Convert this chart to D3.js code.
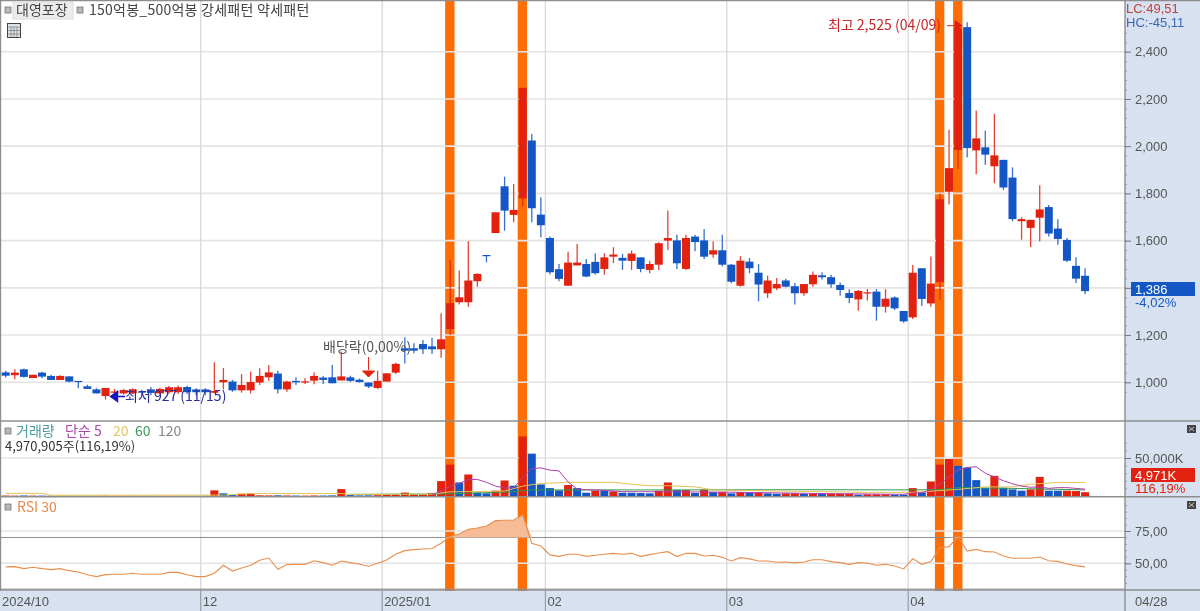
<!DOCTYPE html>
<html>
<head>
<meta charset="utf-8">
<script src="https://cdn.jsdelivr.net/npm/d3@7/dist/d3.min.js"></script>
<style>
  html, body { margin: 0; padding: 0; background: #fff; overflow: hidden; }
  text { font-family: "Noto Sans CJK KR", "Liberation Sans", sans-serif; }
  .num { font-family: "Liberation Sans", sans-serif; }
</style>
</head>
<body>
<div id="chart"></div>
<script>
// daily candles (row = 10 sessions)
var opens = [
  1042,1030,1055,1018,1041,1027,1010,1025,1006,983,
  970,942,957,953,953,961,970,953,958,958,
  980,970,970,956,1000,1003,966,966,999,1021,
  1037,970,1006,1000,1007,1020,1021,1008,1021,1011,
  999,976,1003,1041,1144,1144,1162,1152,1140,1226,
  1339,1339,1428,1539,1632,1830,1709,1779,2024,1710,
  1611,1479,1409,1495,1501,1510,1480,1532,1527,1514,
  1529,1476,1498,1600,1601,1480,1617,1601,1541,1559,
  1498,1409,1511,1464,1377,1398,1431,1407,1377,1415,
  1453,1445,1412,1378,1351,1377,1384,1320,1359,1302,
  1275,1483,1334,1424,1807,1984,2504,1982,1995,1915,
  1942,1867,1682,1654,1697,1742,1651,1603,1493,1451
];
var closes = [
  1028,1041,1023,1032,1024,1010,1027,1003,1001,972,
  953,976,961,967,970,956,955,972,979,979,
  958,958,958,963,1010,966,989,1001,1027,1042,
  970,1003,1000,1004,1027,1010,996,1025,1006,1001,
  982,1006,1038,1078,1134,1134,1140,1140,1182,1335,
  1360,1431,1459,1534,1720,1727,1730,2247,1737,1665,
  1466,1438,1507,1507,1448,1462,1529,1541,1515,1545,
  1480,1501,1589,1611,1504,1611,1594,1532,1559,1498,
  1426,1515,1483,1414,1431,1416,1405,1377,1416,1455,
  1445,1415,1391,1357,1387,1381,1320,1354,1313,1258,
  1464,1353,1418,1775,1907,2499,1992,2033,1964,1961,
  1825,1691,1691,1688,1732,1630,1607,1515,1439,1386
];
var highs = [
  1049,1055,1058,1032,1045,1032,1030,1025,1006,990,
  975,976,972,972,975,968,980,977,984,986,
  985,975,975,1085,1060,1010,1035,1045,1059,1073,
  1049,1007,1021,1017,1041,1027,1073,1130,1028,1016,
  999,1049,1038,1083,1191,1165,1179,1189,1292,1518,
  1473,1597,1462,1539,1720,1871,1840,2247,2052,1784,
  1617,1501,1553,1586,1522,1546,1546,1572,1544,1558,
  1529,1515,1593,1727,1625,1625,1625,1649,1597,1625,
  1501,1534,1527,1501,1452,1442,1438,1421,1416,1469,
  1466,1455,1423,1394,1391,1395,1395,1395,1364,1302,
  1497,1483,1533,1799,2070,2520,2525,2151,2066,2137,
  1942,1910,1699,1688,1834,1751,1690,1611,1530,1483
];
var lows = [
  1020,1013,1020,1018,1017,1010,1010,1000,975,972,
  953,927,937,948,950,945,945,948,950,950,
  950,945,945,953,970,960,956,953,989,1007,
  953,960,989,993,992,993,996,1008,1001,999,
  976,972,1003,1035,1080,1123,1120,1120,1104,1200,
  1329,1320,1405,1508,1632,1642,1678,1744,1678,1614,
  1457,1428,1409,1495,1445,1456,1456,1505,1476,1476,
  1466,1462,1476,1560,1480,1476,1555,1522,1527,1490,
  1419,1405,1462,1343,1357,1391,1402,1329,1366,1405,
  1435,1400,1366,1335,1303,1346,1261,1295,1306,1252,
  1268,1323,1320,1348,1753,1903,1952,1881,1921,1843,
  1815,1682,1604,1573,1597,1617,1583,1509,1420,1373
];
// volume in 1000 shares
var volumes = [
  600,500,700,500,500,400,400,400,300,300,
  400,500,300,300,400,300,300,300,300,300,
  300,300,400,7400,3500,1200,3000,3200,900,800,
  900,700,600,500,700,600,800,9100,1200,800,
  900,1100,1400,1800,4500,2500,2000,4000,19600,41300,
  17800,28300,4500,3500,7000,20400,13500,78300,55700,15200,
  10400,7400,14400,10400,4300,7000,6900,6100,4300,4200,
  3900,3500,7000,17800,7800,7900,3900,8300,5200,5400,
  3500,5200,4300,4400,3500,3000,3500,3600,3000,3000,
  3000,3000,3000,3000,1700,2200,2200,2200,1700,1700,
  10400,4800,19100,41300,48700,39600,37400,20900,10400,26500,
  10900,8700,7000,8700,25200,7000,7000,7000,6500,4971
];
// 1 = red volume bar, 0 = blue
var volUp = [
  1,1,0,1,0,0,1,0,0,0,
  0,1,1,1,1,0,0,1,1,1,
  0,0,0,1,0,0,1,1,1,1,
  0,1,0,1,1,0,0,1,0,0,
  0,1,1,1,1,1,1,1,1,1,
  0,1,0,0,1,1,0,1,0,0,
  0,0,1,0,0,1,0,1,0,0,
  0,0,1,1,0,1,0,1,0,1,
  0,1,0,1,0,0,1,1,0,1,
  0,1,1,1,0,1,1,1,0,0,
  1,0,1,1,1,0,0,0,0,1,
  0,0,0,1,1,0,0,1,1,1
];
var rsi = [
  47.2,47.4,45.9,46.9,45.9,45.1,45.9,44.3,43.3,41.2,
  39.7,41.2,41.5,41.5,42.3,41.5,41.5,41.5,43,43,
  41.2,39.7,39.7,42.3,48.5,44,46.4,48.5,52.3,54.1,
  45.4,49,49.2,49.2,52,50.5,48.5,51.8,50.5,49.2,
  47.7,50,52.6,57,59.8,60.6,61.1,61.4,65.5,70.6,
  72.7,76.3,77.3,78.9,83,83.3,83.5,87.4,65.5,63.4,
  56.5,55.4,57,57,55.4,56.2,57,57.7,57,57.7,
  55.4,56.7,58,59,55.2,57.7,57.7,55.7,56.2,54.6,
  51.8,54.4,53.4,51.8,51.8,50.8,51,50.3,51,52.8,
  52.8,51.3,50.5,49.2,50.5,50,48.5,49.2,47.9,45.6,
  53.6,49.2,51.3,62.1,62.9,70.6,59.5,60.8,59,58.8,
  55.7,53.9,53.9,53.9,54.9,52,51.5,49.5,48.2,47.2
];
// volume moving averages: [session, value], where the line can be seen
var ma5 = [
  [47,2000],[48,6000],[49,13000],[50,16500],[51,21500],[52,21800],[53,18000],[54,13000],
  [55,10500],[56,10800],[57,24000],[58,36000],[59,37000],[60,34000],[61,33000],[62,18500],
  [63,9000],[64,8200],[65,7800],[66,7400],[67,6500],[68,5800],[80,5000],[90,3200],[99,2200],
  [100,4000],[101,4300],[102,8000],[103,16000],[104,25000],[105,34000],[106,37500],[107,38500],
  [108,30000],[109,25000],[110,20000],[111,16000],[112,13000],[113,11500],[114,12000],
  [115,10000],[116,11000],[117,11000],[118,10000],[119,9000]
];
var ma20 = [
  [0,3500],[4,3500],[5,1000],[24,1200],[27,3200],[37,3200],[38,2000],[47,2500],[49,5500],
  [55,6500],[57,13000],[59,16500],[62,18000],[67,18000],[69,15500],[71,13500],[73,13500],
  [76,12000],[78,8000],[85,6500],[95,4800],[100,4800],[101,5500],[105,8700],[108,12000],
  [111,12000],[113,15500],[116,17900],[119,17900]
];
var ma60 = [
  [38,2200],[47,2500],[51,3500],[56,5700],[58,8000],[76,8000],[87,8300],[100,8000],
  [103,8500],[105,11000],[111,10000],[119,8000]
];
// pattern signals (orange bands)
var signalBars = [49, 57, 103, 105];
// month labels and the first session of each month
var monthLabels = ["2024/10", "12", "2025/01", "02", "03", "04"];
var monthBars = [0, 22, 42, 60, 80, 100];
var priceTicks = [1000, 1200, 1400, 1600, 1800, 2000, 2200, 2400];
var volTicks = [50000];
var rsiTicks = [50, 75];

var width = 1200, height = 611, plotRight = 1125;
var RED = "#e2210f", BLUE = "#1357c5", BAND = "#ff6d05", AXISBG = "#d7e1ef";
var fmtComma = d3.format(",");
var fmtRsi = function(d) { return d3.format(".2f")(d).replace(".", ","); };

// scales
var x = d3.scaleBand().domain(d3.range(opens.length)).range([1.2, 1.2 + 9.07 * opens.length]);
var cx = function(i) { return x(i) + x.bandwidth() / 2; };
var y = d3.scaleLinear().domain([1000, 2400]).range([382.3, 51.7]);
var yVol = d3.scaleLinear().domain([0, 50000]).range([496, 458]);
var yRsi = d3.scaleLinear().domain([50, 75]).range([563.3, 531]);

var svg = d3.select("#chart")
  .append("svg")
    .attr("width", width)
    .attr("height", height)
    .style("display", "block")
    .style("filter", "blur(0.45px)");

svg.append("rect").attr("width", width).attr("height", height).attr("fill", "#fff");

// axis strips
svg.append("rect").attr("x", plotRight).attr("y", 0).attr("width", width - plotRight).attr("height", height).attr("fill", AXISBG);
svg.append("rect").attr("x", 0).attr("y", 591).attr("width", width).attr("height", 20).attr("fill", AXISBG);

// orange signal bands
svg.append("g")
  .selectAll("rect")
  .data(signalBars)
  .enter()
  .append("rect")
    .attr("x", function(d) { return x(d) - 0.5; })
    .attr("y", 0)
    .attr("width", 9.4)
    .attr("height", 591)
    .attr("fill", BAND);

// grid lines
var grid = svg.append("g").attr("fill", "none");
function hGrid(vals, scale, color) {
  grid.append("g")
    .selectAll("line")
    .data(vals)
    .enter()
    .append("line")
      .attr("x1", 0).attr("x2", plotRight)
      .attr("y1", function(d) { return scale(d); })
      .attr("y2", function(d) { return scale(d); })
      .attr("stroke", color)
      .attr("stroke-width", 1.6);
}
hGrid(priceTicks, y, "#e4e4e4");
hGrid(volTicks, yVol, "#e4e4e4");
hGrid(rsiTicks, yRsi, "#e4e4e4");
grid.append("g")
  .selectAll("line")
  .data(monthBars.slice(1))
  .enter()
  .append("line")
    .attr("x1", function(d) { return x(d); })
    .attr("x2", function(d) { return x(d); })
    .attr("y1", 0).attr("y2", 611)
    .attr("stroke", "#d4d4da")
    .attr("stroke-width", 1.2);
// bottom strip gets the darker tick
grid.append("g")
  .selectAll("line")
  .data(monthBars.slice(1))
  .enter()
  .append("line")
    .attr("x1", function(d) { return x(d); })
    .attr("x2", function(d) { return x(d); })
    .attr("y1", 591).attr("y2", 611)
    .attr("stroke", "#8d97a5");

// panel frames
var frames = svg.append("g").attr("stroke", "#8e8e8e").attr("stroke-width", 1.4);
[421, 496.8, 590].forEach(function(py) {
  frames.append("line").attr("x1", 0).attr("x2", width).attr("y1", py).attr("y2", py);
});
frames.append("line").attr("x1", 0).attr("x2", plotRight).attr("y1", yRsi(70)).attr("y2", yRsi(70)).attr("stroke-width", 1);
frames.append("line").attr("x1", 0).attr("x2", plotRight).attr("y1", yRsi(30)).attr("y2", yRsi(30)).attr("stroke-width", 1);
frames.append("line").attr("x1", plotRight).attr("x2", plotRight).attr("y1", 0).attr("y2", height);
frames.append("line").attr("x1", 0.5).attr("x2", 0.5).attr("y1", 0).attr("y2", 591);
frames.append("line").attr("x1", 0).attr("x2", width).attr("y1", 0.5).attr("y2", 0.5);

// candles
var candles = svg.append("g")
  .selectAll("g")
  .data(opens)
  .enter()
  .append("g")
    .attr("fill", function(d, i) { return closes[i] >= opens[i] ? RED : BLUE; })
    .attr("stroke", function(d, i) { return closes[i] >= opens[i] ? RED : BLUE; });
candles.append("line")
  .attr("x1", function(d, i) { return cx(i); })
  .attr("x2", function(d, i) { return cx(i); })
  .attr("y1", function(d, i) { return y(highs[i]); })
  .attr("y2", function(d, i) { return y(lows[i]); })
  .attr("stroke-width", 1.3)
  .attr("stroke-opacity", 0.85);
candles.append("rect")
  .attr("stroke", "none")
  .attr("x", function(d, i) { return cx(i) - 4; })
  .attr("width", 8)
  .attr("y", function(d, i) { return y(Math.max(opens[i], closes[i])); })
  .attr("height", function(d, i) { return Math.max(1.2, Math.abs(y(opens[i]) - y(closes[i]))); });

// volume bars
svg.append("g")
  .selectAll("rect")
  .data(volumes)
  .enter()
  .append("rect")
    .attr("x", function(d, i) { return cx(i) - 4; })
    .attr("width", 8)
    .attr("y", function(d) { return yVol(d); })
    .attr("height", function(d) { return yVol(0) - yVol(d); })
    .attr("fill", function(d, i) { return volUp[i] ? RED : BLUE; });

var maLine = d3.line()
  .x(function(d) { return cx(d[0]); })
  .y(function(d) { return yVol(d[1]); });
[[ma60, "#2f9a4c"], [ma20, "#e2c455"], [ma5, "#b63cb0"]].forEach(function(m) {
  svg.append("path")
    .attr("d", maLine(m[0]))
    .attr("fill", "none")
    .attr("stroke", m[1])
    .attr("stroke-width", 1);
});

// RSI fill above 70 and line
svg.append("path")
  .attr("d", d3.area()
    .x(function(d, i) { return cx(i); })
    .y0(yRsi(70))
    .y1(function(d) { return yRsi(Math.max(d, 70)); })(rsi))
  .attr("fill", "#f6bb97");
svg.append("path")
  .attr("d", d3.line()
    .x(function(d, i) { return cx(i); })
    .y(function(d) { return yRsi(d); })(rsi))
  .attr("fill", "none")
  .attr("stroke", "#e88f4e")
  .attr("stroke-width", 1.1);

// right axes
var axisG = svg.append("g").attr("class", "num");
function rightAxis(scale, major, minor, fmt) {
  var minorG = axisG.append("g")
    .attr("transform", "translate(" + plotRight + ",0)")
    .call(d3.axisRight(scale).tickValues(minor).tickSize(2).tickFormat(""));
  minorG.select(".domain").remove();
  minorG.selectAll("line").attr("stroke", "#8d97a5");
  var majorG = axisG.append("g")
    .attr("transform", "translate(" + plotRight + ",0)")
    .call(d3.axisRight(scale).tickValues(major).tickSize(6).tickPadding(4).tickFormat(fmt));
  majorG.select(".domain").remove();
  majorG.selectAll("line").attr("stroke", "#6f7782");
  majorG.selectAll("text")
    .attr("class", "num")
    .style("font-size", "13px")
    .style("font-family", "Liberation Sans")
    .attr("fill", "#555");
}
// the 1,400 label sits under the last price tag, as in the original
rightAxis(y, priceTicks, d3.range(960, 2520, 40), function(d) { return d === 1400 ? "" : fmtComma(d); });
rightAxis(yVol, volTicks, d3.range(10000, 80000, 10000), function(d) { return fmtComma(d) + "K"; });
rightAxis(yRsi, rsiTicks, d3.range(35, 100, 5), fmtRsi);

// last price and volume tags
function tag(ty, color, label, sub) {
  svg.append("rect").attr("x", 1131).attr("y", ty - 7).attr("width", 64).attr("height", 14).attr("fill", color);
  svg.append("text").attr("class", "num").attr("x", 1135).attr("y", ty + 4.5).attr("fill", "#fff").style("font-size", "13px").style("font-family", "Liberation Sans").text(label);
  svg.append("text").attr("class", "num").attr("x", 1135).attr("y", ty + 18).attr("fill", color).style("font-size", "13px").style("font-family", "Liberation Sans").text(sub);
}
tag(289, BLUE, "1,386", "-4,02%");
tag(475, RED, "4,971K", "116,19%");

function label(tx, ty, str, color, size, anchor) {
  return svg.append("text")
    .attr("x", tx).attr("y", ty)
    .attr("fill", color)
    .attr("text-anchor", anchor || "start")
    .style("font-size", (size || 14) + "px")
    .text(str);
}
function sq(sx, sy) {
  svg.append("rect").attr("x", sx).attr("y", sy).attr("width", 6).attr("height", 6)
    .attr("fill", "#b8b8b8").attr("stroke", "#777").attr("stroke-width", 0.8);
}

// header
sq(5, 7);
svg.append("rect").attr("x", 13).attr("y", 2).attr("width", 60).attr("height", 17).attr("fill", "#ececec").attr("stroke", "#ddd");
label(16, 15, "대영포장", "#444", 14);
sq(77, 7);
label(89, 15, "150억봉_500억봉 강세패턴  약세패턴", "#444", 14).style("letter-spacing", "0.25px");
// calendar icon
svg.append("rect").attr("x", 7.5).attr("y", 23.5).attr("width", 13).attr("height", 14).attr("fill", "#dde3e8").attr("stroke", "#444");
svg.append("path").attr("d", "M8 27h12M8 30.5h12M8 34h12M11 27v10M14 27v10M17 27v10").attr("stroke", "#7a7a7a").attr("stroke-width", 0.7);

// LC / HC
label(1126, 13, "LC:49,51", "#c0423d", 13).attr("class", "num").style("font-family", "Liberation Sans");
label(1126, 27, "HC:-45,11", "#3c68b8", 13).attr("class", "num").style("font-family", "Liberation Sans");

// high / low / ex-dividend notes
var highBar = 106, lowBar = 11, divBar = 40;
label(941, 30, "최고 " + fmtComma(highs[highBar]) + " (04/09)", "#c5262b", 14, "end");
svg.append("path")
  .attr("d", "M947 " + y(2510) + "H" + (cx(highBar) - 11) + "M" + (cx(highBar) - 5) + " " + y(2510) + "l-7 -5v10z")
  .attr("stroke", RED).attr("fill", RED);
label(125, 401, "최저 " + lows[lowBar] + " (11/15)", "#2a2f9a", 14);
svg.append("path")
  .attr("d", "M" + (cx(lowBar) + 5) + " " + y(940) + "l7 -5v10z M" + (cx(lowBar) + 12) + " " + y(940) + "H125")
  .attr("stroke", "#1414c8").attr("fill", "#1414c8").attr("stroke-width", 1.4);
label(323, 352, "배당락(0,00%)", "#555", 14);
svg.append("path")
  .attr("d", "M" + cx(divBar) + " 357V370M" + (cx(divBar) - 6) + " 371h12l-6 6z")
  .attr("stroke", RED).attr("fill", RED);

// volume legend
sq(5, 428);
label(16, 436, "거래량", "#4f9b9f");
label(65, 436, "단순 5", "#b043b0");
label(113, 436, "20", "#e0c56a");
label(135, 436, "60", "#3f9a5f");
label(158, 436, "120", "#888");
label(5, 451, "4,970,905주(116,19%)", "#333", 13);

// RSI legend
sq(5, 504);
label(17, 512, "RSI 30", "#e08b4d");

// small panel buttons
[425, 501].forEach(function(by) {
  svg.append("rect").attr("x", 1187).attr("y", by).attr("width", 9).attr("height", 8).attr("fill", "#444");
  svg.append("path").attr("d", "M1189 " + (by + 2) + "l5 4M1194 " + (by + 2) + "l-5 4").attr("stroke", "#ddd").attr("stroke-width", 0.8);
});

// date labels
svg.append("g")
  .selectAll("text")
  .data(monthLabels)
  .enter()
  .append("text")
    .attr("class", "num")
    .attr("x", function(d, i) { return i === 0 ? 2 : x(monthBars[i]) + 2; })
    .attr("y", 606)
    .attr("fill", "#555")
    .style("font-size", "13px")
    .style("font-family", "Liberation Sans")
    .text(function(d) { return d; });
svg.append("text").attr("x", 1135).attr("y", 606).attr("fill", "#555")
  .style("font-size", "13px").style("font-family", "Liberation Sans").text("04/28");
</script>
</body>
</html>
